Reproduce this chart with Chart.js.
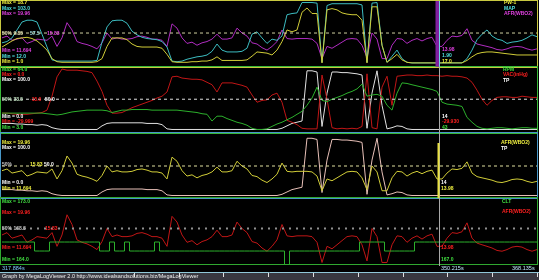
<!DOCTYPE html>
<html>
<head>
<meta charset="utf-8">
<title>MegaLogViewer</title>
<script src="https://cdn.jsdelivr.net/npm/chart.js"></script>
<style>
  html, body { margin: 0; padding: 0; background: #000; }
  canvas { display: block; }
</style>
</head>
<body>
<canvas id="logChart" width="539" height="280"></canvas>
<script>
/* ── log channels, one sample every ~0.47 s ── */
const pw1 = [5.78, 6.66, 7.55, 8.26, 8.43, 8.61, 8.26, 7.55, 6.31, 4.89,
  2.42, 1.53, 1.35, 1.35, 1.35, 1.35, 1.35, 1.35, 1.35, 1.53,
  2.42, 5.96, 8.43, 8.43, 8.43, 7.90, 6.66, 5.96, 5.78, 5.78,
  5.78, 5.78, 5.43, 3.66, 1.53, 1.35, 1.35, 1.35, 1.53, 1.53,
  1.71, 1.71, 2.06, 2.95, 1.89, 1.89, 1.89, 1.89, 1.89, 2.06,
  3.12, 4.36, 4.19, 4.01, 3.48, 4.89, 7.37, 10.74, 10.20, 10.74,
  15.87, 17.11, 15.51, 15.51, 1.18, 16.58, 16.93, 16.58, 15.69, 15.34,
  15.16, 15.16, 13.57, 1.18, 17.46, 17.46, 6.31, 1.35, 2.42, 3.66,
  2.06, 1.35, 1.18, 1.18, 1.18, 1.18, 1.18, 1.18, 1.18, 1.18,
  1.18, 1.18, 1.18, 1.89, 2.95, 3.83, 4.19, 4.36, 4.36, 4.19,
  4.01, 3.83, 3.66, 3.48, 3.48, 3.48, 3.48, 3.48];

const map = [42.9, 44.8, 50.2, 62.1, 73.9, 76.6, 76.6, 73.9, 55.7, 36.6,
  17.5, 15.6, 15.6, 15.6, 15.6, 15.6, 15.6, 15.6, 15.6, 16.6,
  43.9, 66.6, 75.7, 76.6, 76.6, 72.1, 60.2, 54.8, 51.1, 49.3,
  48.4, 47.5, 44.8, 36.6, 15.6, 14.7, 15.6, 18.4, 20.2, 22.0,
  22.9, 24.7, 30.2, 41.1, 32.0, 29.3, 29.3, 29.3, 30.2, 34.8,
  55.7, 59.3, 50.2, 42.0, 48.4, 46.6, 53.0, 84.8, 86.6, 87.5,
  103.0, 103.0, 103.0, 102.1, 13.8, 98.5, 101.2, 101.2, 101.2, 101.2,
  101.2, 101.2, 99.4, 13.8, 102.1, 103.0, 39.3, 13.8, 22.9, 32.0,
  19.3, 13.8, 12.9, 12.9, 12.9, 12.9, 12.9, 12.9, 12.9, 12.9,
  12.9, 12.9, 12.9, 19.3, 32.0, 47.5, 55.7, 62.1, 53.0, 48.4,
  46.6, 42.0, 43.9, 44.8, 46.6, 50.2, 54.8, 52.0];

const afr = [15.17, 15.41, 14.84, 15.00, 15.17, 14.42, 14.67, 15.00, 14.92, 14.84,
  15.41, 14.01, 15.17, 17.23, 16.24, 14.67, 14.42, 14.26, 14.01, 13.68,
  14.50, 15.83, 15.00, 15.17, 15.00, 15.00, 15.08, 15.33, 15.41, 15.25,
  15.00, 15.00, 14.84, 14.01, 17.07, 16.49, 15.17, 14.42, 14.59, 14.17,
  14.50, 14.67, 15.00, 15.66, 15.00, 15.00, 15.17, 16.49, 15.83, 15.41,
  14.50, 14.34, 13.84, 13.51, 14.01, 14.67, 16.24, 15.08, 15.00, 15.08,
  15.08, 15.08, 15.00, 14.42, 12.36, 14.01, 13.76, 14.17, 14.59, 15.00,
  15.08, 15.00, 14.17, 12.52, 15.83, 15.00, 12.36, 12.36, 14.17, 15.08,
  15.00, 14.42, 14.84, 15.08, 14.75, 15.08, 15.25, 14.01, 14.01, 14.84,
  15.41, 15.33, 15.50, 16.41, 14.84, 14.34, 14.17, 14.01, 13.84, 13.59,
  13.51, 13.68, 13.93, 14.01, 13.93, 13.68, 13.51, 13.68];

const rpm = [19.5, 19.5, 19.5, 19.5, 19.5, 19.5, 19.5, 19.5, 19.5, 18.9,
  18.3, 17.6, 18.3, 19.5, 20.7, 21.3, 21.9, 22.5, 22.5, 22.5,
  22.5, 21.9, 20.1, 21.3, 22.5, 22.5, 23.1, 23.1, 23.1, 23.1,
  22.5, 22.5, 22.5, 22.5, 22.5, 22.5, 21.9, 21.3, 20.7, 20.1,
  18.9, 18.3, 11.5, 16.4, 16.4, 14.0, 12.2, 10.3, 9.1, 7.3,
  4.2, 3.0, 3.0, 3.6, 6.1, 8.5, 10.3, 12.8, 15.2, 18.3,
  21.3, 27.4, 34.7, 45.7, 32.3, 31.1, 33.5, 35.3, 37.2, 39.6,
  41.4, 43.9, 48.8, 36.6, 37.8, 38.4, 36.6, 27.4, 22.5, 39.6,
  50.0, 49.4, 48.1, 46.9, 45.7, 44.5, 43.3, 41.4, 30.5, 28.6,
  28.0, 27.4, 26.2, 15.2, 10.3, 6.1, 4.2, 3.6, 4.2, 4.8,
  4.8, 4.2, 3.6, 4.2, 4.8, 4.8, 4.2, 4.2];

const vac = [-8.1, -8.1, -7.8, -7.5, -7.5, -7.5, -7.8, -8.1, -8.4, -9.6,
  -16.5, -26.1, -29.99, -29.4, -29.4, -29.4, -29.1, -28.8, -28.2, -24.0,
  -18.9, -12.0, -8.1, -8.1, -8.4, -9.6, -10.8, -11.7, -12.6, -13.5,
  -14.4, -15.6, -16.5, -18.6, -26.1, -26.4, -25.5, -25.2, -24.9, -24.9,
  -24.6, -23.4, -22.2, -18.6, -23.1, -23.1, -23.1, -22.5, -21.9, -21.0,
  -17.1, -13.5, -14.4, -14.7, -17.1, -18.0, -13.5, -4.5, -3.6, -2.4,
  -0.6, -0.3, -0.3, -0.3, -27.0, -15.0, -0.9, -0.3, -0.6, -0.3,
  -0.6, -0.3, -1.5, -27.6, -0.9, -0.3, -21.0, -26.4, -12.0, -26.4,
  -26.7, -27.0, -27.0, -26.7, -26.7, -27.0, -26.7, -26.7, -26.4, -26.7,
  -26.4, -26.4, -26.1, -25.5, -23.4, -19.5, -15.0, -12.0, -14.4, -15.9,
  -16.2, -16.2, -15.9, -15.9, -16.5, -16.2, -15.9, -15.9];

const tp = [10, 10, 10, 9, 9, 8, 8, 7, 8, 7,
  3, 1, 0, 0, 0, 0, 0, 0, 0, 0,
  6, 10, 11, 11, 11, 11, 11, 11, 11, 10,
  10, 10, 8, 1, 0, 0, 0, 0, 0, 0,
  0, 0, 0, 0, 0, 0, 0, 0, 0, 0,
  0, 0, 0, 0, 0, 0, 2, 6, 10, 12,
  14, 97, 97, 95, 5, 60, 95, 95, 94, 94,
  93, 92, 90, 2, 60, 97, 40, 1, 3, 6,
  5, 1, 0, 0, 0, 0, 0, 0, 0, 0,
  0, 0, 0, 0, 0, 0, 0, 0, 0, 0,
  0, 0, 0, 0, 0, 0, 0, 0];

const clt = [167, 167, 167, 167, 167, 167, 167, 166, 166, 166,
  167, 167, 167, 167, 167, 167, 167, 167, 167, 167,
  166, 166, 167, 166, 166, 167, 166, 166, 166, 166,
  166, 167, 166, 166, 166, 166, 166, 166, 166, 166,
  166, 166, 166, 166, 166, 166, 166, 166, 166, 166,
  166, 166, 166, 166, 166, 166, 166, 164, 166, 166,
  166, 166, 166, 166, 166, 166, 166, 166, 166, 166,
  166, 166, 167, 167, 167, 167, 167, 166, 166, 166,
  166, 166, 166, 167, 167, 167, 167, 167, 167, 167,
  167, 167, 167, 167, 167, 167, 167, 167, 167, 167,
  167, 167, 167, 167, 167, 167, 167, 167];

/* display ranges [bottom, top] as shown in the Min / Max labels */
const pwRange  = [1.0, 18.7];
const mapRange = [12.0, 103.0];
const afrRange = [11.694, 19.96];
const rpmRange = [3.0, 64.0];
const vacRange = [0.0, -29.999];
const tpRange  = [0, 100];
const cltRange = [164.0, 173.0];

const timeLabels = ["317.884s", "350.215s", "368.135s"];
const cursorAt   = 87.4;   // sample index under the cursor

const COL = {
  yellow: "#d0cc38", cyan: "#3cbcc0", magenta: "#b02cc0", green: "#2cb02c",
  red: "#c01616", white: "#e0e0e0", pink: "#e8c0b8",
};
const TXT = {
  yellow: "#f0f040", cyan: "#50e0e0", magenta: "#e040e0", green: "#40e040",
  red: "#ff2020", white: "#ffffff", grey: "#c8c8c8",
};

const labels = pw1.map((_, i) => i);

function pct(values, range) {
  const [lo, hi] = range;
  return values.map((v) => ((v - lo) / (hi - lo)) * 100);
}

function trace(label, values, range, axis, color, extra) {
  return Object.assign({
    label, data: pct(values, range), yAxisID: axis,
    borderColor: color, borderWidth: 1, pointRadius: 0, fill: false, tension: 0,
  }, extra || {});
}

function midLine(axis, color, dash, width) {
  return {
    label: "50%", data: labels.map(() => 50), yAxisID: axis,
    borderColor: color, borderWidth: width || 1, borderDash: dash,
    pointRadius: 0, fill: false,
  };
}

function panelAxis(min, max) {
  return {
    type: "linear", position: "right", stack: "panels", stackWeight: 1,
    min, max,
    grid: { display: false }, border: { display: false }, ticks: { display: false },
    afterFit: (s) => { s.width = 0; },
  };
}

/* ── text, borders, cursor ── */
const FONT = 'bold 5px "Liberation Sans", Arial, sans-serif';
const panelText = [
  [2, 3, "Max = 18.7", TXT.yellow], [2, 8.5, "Max = 103.0", TXT.cyan], [2, 14, "Max = 19.96", TXT.magenta],
  [2, 33.5, "50% 9.85", "#e0e0b0"], [30, 33.5, "57.5", "#a0e0e0"], [47, 33.5, "15.83", TXT.magenta],
  [2, 51, "Min = 11.694", TXT.magenta], [2, 56.5, "Min = 12.0", TXT.cyan], [2, 62, "Min = 1.0", TXT.yellow],
  [504, 3, "PW-1", TXT.yellow], [504, 8.5, "MAP", TXT.cyan], [504, 14, "AFR(WBO2)", TXT.magenta],
  [442, 50, "13.98", TXT.magenta], [442, 55.5, "1.90", TXT.cyan], [442, 61.5, "17.0", TXT.yellow],

  [2, 70, "Max = 64.0", TXT.green], [2, 75, "Max = 0.0", TXT.red], [2, 80, "Max = 100.0", TXT.white],
  [2, 99.5, "50% 33.5", "#c0e0c0"], [30, 99.5, "-15.0", TXT.red], [45, 99.5, "50.0", TXT.white],
  [2, 117, "Min = 0.0", TXT.white], [2, 122, "Min = -29.999", TXT.red], [2, 127.5, "Min = 3.0", TXT.green],
  [503, 69.5, "RPM", TXT.green], [503, 75, "VAC(inHg)", TXT.red], [503, 80.5, "TP", TXT.white],
  [442, 117, "14", TXT.white], [442, 122, "-29.930", TXT.red], [442, 128, "43", TXT.green],

  [2, 143, "Max = 19.96", TXT.yellow], [2, 148, "Max = 100.0", TXT.white],
  [2, 164.5, "50%", TXT.grey], [30, 164.5, "15.83", TXT.yellow], [44, 164.5, "50.0", TXT.white],
  [2, 183, "Min = 0.0", TXT.white], [2, 188.5, "Min = 11.694", TXT.yellow],
  [501, 143, "AFR(WBO2)", TXT.yellow], [501, 148.5, "TP", TXT.white],
  [441, 183, "14", TXT.white], [441, 188.5, "13.98", TXT.yellow],

  [2, 201.5, "Max = 173.0", TXT.green], [2, 212.5, "Max = 19.96", TXT.red],
  [2, 228.5, "50% 168.5", TXT.grey], [45, 228.5, "15.83", TXT.red],
  [2, 248, "Min = 11.694", TXT.red], [2, 260, "Min = 164.0", TXT.green],
  [502, 201.5, "CLT", TXT.green], [502, 212, "AFR(WBO2)", TXT.red],
  [441, 248, "13.98", TXT.red], [441, 260, "167.0", TXT.green],
];
const panelBorders = { p1: "#c8c840", p2: "#38b838", p3: "#4898c8", p4: "#30a830" };

const megaLogPlugin = {
  id: "megaLog",
  beforeDraw(chart) {
    const ctx = chart.ctx;
    ctx.save();
    ctx.fillStyle = "#000";
    ctx.fillRect(0, 0, chart.width, chart.height);
    ctx.restore();
  },
  afterDraw(chart) {
    const ctx = chart.ctx;
    const xs = chart.scales.x;
    const cx = Math.round(xs.getPixelForValue(cursorAt)) + 0.5;
    ctx.save();

    /* panel frames */
    ctx.lineWidth = 1;
    Object.keys(panelBorders).forEach((id) => {
      const s = chart.scales[id];
      ctx.strokeStyle = panelBorders[id];
      ctx.strokeRect(0.5, Math.round(s.top) - 0.5, 537, Math.round(s.bottom) - Math.round(s.top) + 1);
    });

    /* cursor */
    const p1 = chart.scales.p1, p3 = chart.scales.p3, p4 = chart.scales.p4;
    ctx.fillStyle = "#8020a0";
    ctx.fillRect(cx - 4, p1.top, 3.5, p1.bottom - p1.top);
    ctx.strokeStyle = "#a8a8a8";
    ctx.beginPath(); ctx.moveTo(cx, p1.top); ctx.lineTo(cx, p4.bottom + 2); ctx.stroke();
    ctx.strokeStyle = "#70d8e0";
    ctx.beginPath(); ctx.moveTo(cx, p1.top); ctx.lineTo(cx, p1.bottom); ctx.stroke();
    ctx.strokeStyle = "#e8e040"; ctx.lineWidth = 2;
    ctx.beginPath(); ctx.moveTo(cx - 1, 143); ctx.lineTo(cx - 1, p3.bottom); ctx.stroke();
    ctx.lineWidth = 1;

    /* time strip + footer */
    ctx.strokeStyle = "#90c8d8";
    ctx.beginPath(); ctx.moveTo(0, 272.5); ctx.lineTo(539, 272.5); ctx.stroke();
    ctx.fillStyle = "#383840";
    ctx.fillRect(0, 273, 539, 7);
    ctx.strokeStyle = "#e0e0e0";
    for (let t = 26.4; t < labels.length; t += 8.95) {
      const tx = Math.round(xs.getPixelForValue(t)) + 0.5;
      ctx.beginPath(); ctx.moveTo(tx, 273); ctx.lineTo(tx, 277); ctx.stroke();
    }

    ctx.font = FONT;
    ctx.textBaseline = "middle";
    ctx.textAlign = "left";
    panelText.forEach(([x, y, t, c]) => { ctx.fillStyle = c; ctx.fillText(t, x, y); });

    ctx.font = '5.5px "Liberation Sans", Arial, sans-serif';
    ctx.fillStyle = "#80c8ff";
    ctx.fillText(timeLabels[0], 2, 268);
    ctx.fillStyle = "#c0e8ff";
    ctx.fillText(timeLabels[1], cx + 1.5, 268);
    ctx.fillText(timeLabels[2], 512, 268);
    ctx.fillStyle = "#f0f0f0";
    ctx.fillText("Graph by MegaLogViewer 2.0 http://www.idealsandsolutions.biz/MegaLogViewer", 2, 276.5);
    ctx.restore();
  },
};

new Chart(document.getElementById("logChart"), {
  type: "line",
  data: {
    labels,
    datasets: [
      midLine("p1", "#d0d0a0", [3, 3]),
      trace("PW-1", pw1, pwRange, "p1", COL.yellow),
      trace("MAP", map, mapRange, "p1", COL.cyan),
      trace("AFR(WBO2)", afr, afrRange, "p1", COL.magenta),

      midLine("p2", "#e0e0e0", [3, 3]),
      trace("RPM", rpm, rpmRange, "p2", COL.green),
      trace("VAC(inHg)", vac, vacRange, "p2", COL.red),
      trace("TP", tp, tpRange, "p2", COL.white),

      midLine("p3", "#e0e0a0", [3, 3]),
      trace("AFR(WBO2)", afr, afrRange, "p3", COL.yellow),
      trace("TP", tp, tpRange, "p3", COL.pink),

      midLine("p4", "#909090", [2, 5], 2),
      trace("CLT", clt, cltRange, "p4", COL.green, { stepped: "middle" }),
      trace("AFR(WBO2)", afr, afrRange, "p4", COL.red),
    ],
  },
  options: {
    responsive: false,
    animation: false,
    events: [],
    layout: { padding: { left: 2, right: 2, top: 1, bottom: 16 } },
    plugins: { legend: { display: false }, tooltip: { enabled: false } },
    scales: {
      x: { type: "category", display: false, offset: false },
      p1: panelAxis(-5.3, 102.5),
      p2: panelAxis(-5.0, 103.7),
      p3: panelAxis(-4.66, 106.8),
      p4: panelAxis(6.2, 87.4),
    },
  },
  plugins: [megaLogPlugin],
});
</script>
</body>
</html>
